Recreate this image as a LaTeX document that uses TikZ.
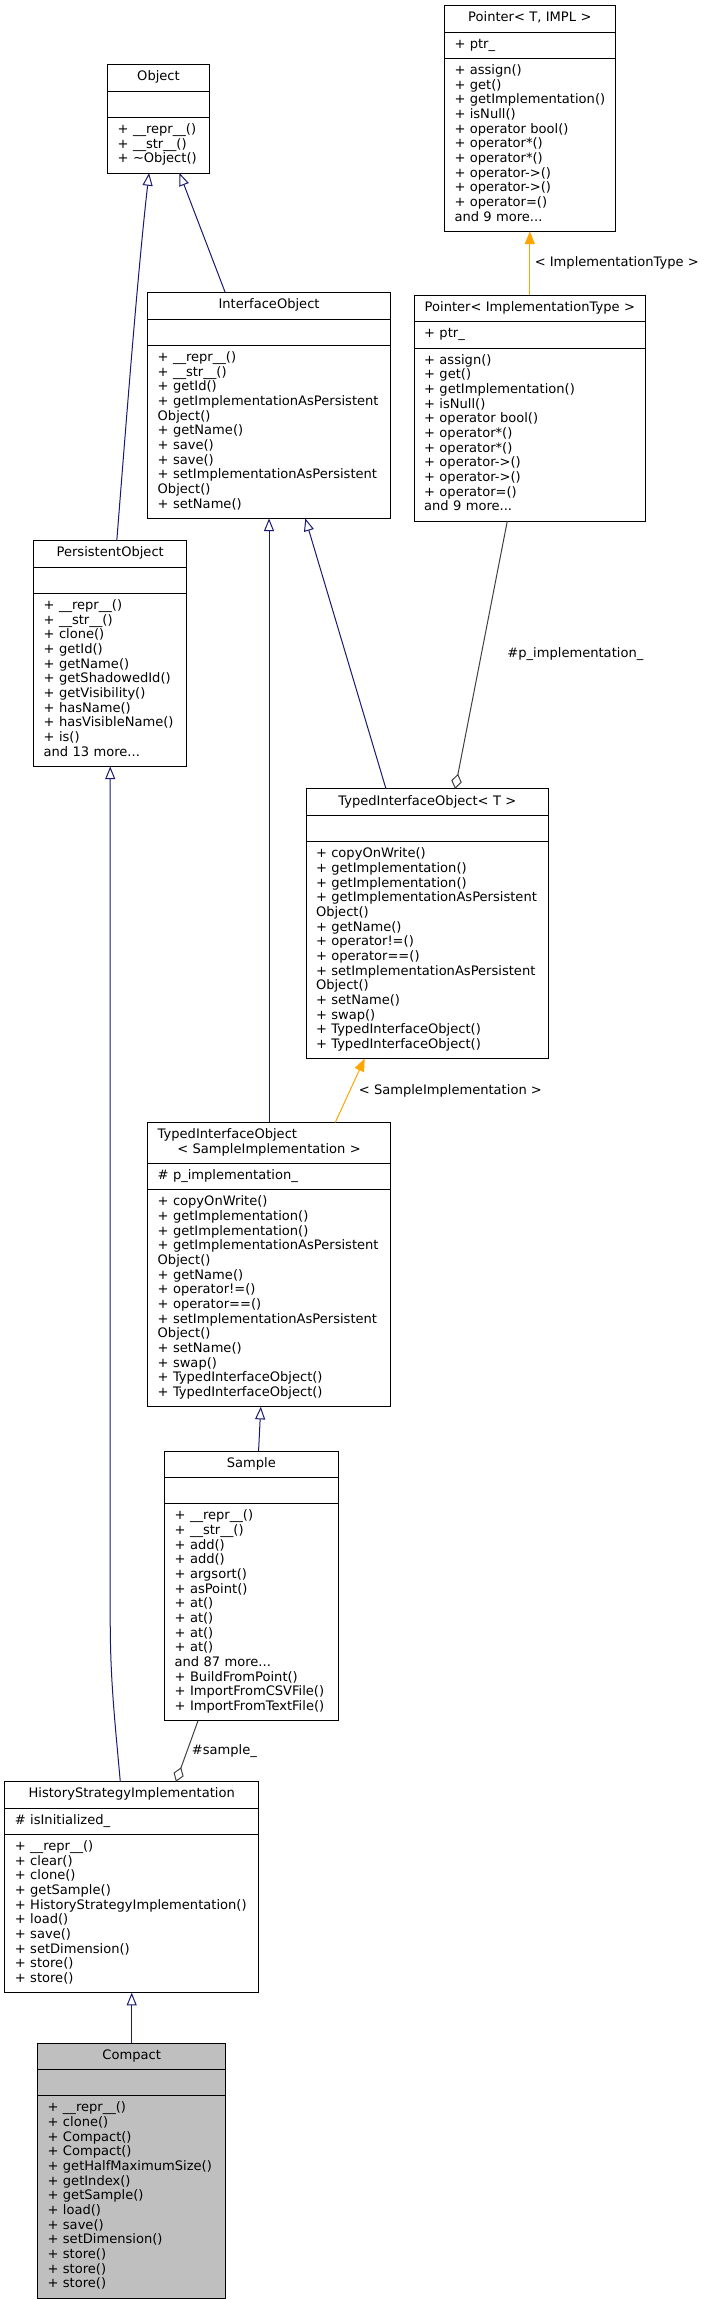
\documentclass[tikz,border=0pt]{standalone}
\usepackage{fontspec}
\setmainfont{DejaVu Sans}
\usetikzlibrary{shapes.multipart,arrows.meta,positioning}
\definecolor{edgeblue}{HTML}{191970}
\definecolor{tmplorange}{HTML}{FFA500}
\definecolor{aggrgray}{HTML}{404040}
\definecolor{focusgray}{HTML}{BFBFBF}
\hyphenpenalty=10000
\exhyphenpenalty=10000
\tikzstyle{umlclass}=[rectangle split,rectangle split parts=3,draw=black,fill=white,
line width=0.75pt,inner xsep=7.5pt,inner ysep=4pt,outer sep=0pt,align=left,
anchor=north west,font=\fontsize{9.8}{11}\selectfont]
\tikzstyle{focusclass}=[umlclass,fill=focusgray]
\tikzstyle{inherit}=[color=edgeblue,line width=0.75pt,{Triangle[open,length=9.5pt,width=7.5pt]}-]
\tikzstyle{bind}=[color=tmplorange,line width=0.75pt,{Triangle[length=9.5pt,width=7.5pt]}-]
\tikzstyle{member}=[color=aggrgray,line width=0.75pt,-{Diamond[open,length=11.5pt,width=8pt]}]
\tikzstyle{elabel}=[text=black,font=\fontsize{9.8}{11}\selectfont]

\begin{document}
\begin{tikzpicture}[x=0.75pt,y=-0.75pt]
            \useasboundingbox (0,0) rectangle (705,2299);

            % POINTER PART

            \node[umlclass,text width=113pt] (ptrT) at (444.5,5.7) {\strut\makebox[\linewidth]{Pointer< T, IMPL >}\strut
              \nodepart{two}\strut +~ptr\_\strut
              \nodepart{three}\strut +~assign()\\+~get()\\+~getImplementation()\\+~isNull()\\+~operator~bool()\\+~operator*()\\+~operator*()\\+~operator->()\\+~operator->()\\+~operator=()\\and~9~more...\strut};
            \node[umlclass,text width=158.5pt,below=48pt of ptrT] (ptrImpl) {\strut\makebox[\linewidth]{Pointer< ImplementationType >}\strut
              \nodepart{two}\strut +~ptr\_\strut
              \nodepart{three}\strut +~assign()\\+~get()\\+~getImplementation()\\+~isNull()\\+~operator~bool()\\+~operator*()\\+~operator*()\\+~operator->()\\+~operator->()\\+~operator=()\\and~9~more...\strut};

            \path[bind] (ptrT.south) edge node[elabel,right] {<~ImplementationType~>} (ptrImpl.north);

            % OBJECT PART

            \node[umlclass,text width=61.2pt] (obj) at (107.7,64.7) {\strut\makebox[\linewidth]{Object}\strut
              \nodepart{two}\strut
              \nodepart{three}\strut +~\_\_repr\_\_()\\+~\_\_str\_\_()\\+~\textasciitilde Object()\strut};
            \node[umlclass,text width=167pt] (iobj) at (147.7,292.7) {\strut\makebox[\linewidth]{InterfaceObject}\strut
              \nodepart{two}\strut
              \nodepart{three}\strut +~\_\_repr\_\_()\\+~\_\_str\_\_()\\+~getId()\\+~getImplementationAsPersistent\\Object()\\+~getName()\\+~save()\\+~save()\\+~setImplementationAsPersistent\\Object()\\+~setName()\strut};
            \node[umlclass,text width=99.8pt] (pobj) at (33.7,540.8) {\strut\makebox[\linewidth]{PersistentObject}\strut
              \nodepart{two}\strut
              \nodepart{three}\strut +~\_\_repr\_\_()\\+~\_\_str\_\_()\\+~clone()\\+~getId()\\+~getName()\\+~getShadowedId()\\+~getVisibility()\\+~hasName()\\+~hasVisibleName()\\+~is()\\and~13~more...\strut};

            \draw[inherit] ([xshift=-7.1pt]obj.south) .. controls +(-9pt,-79pt) and +(6pt,75pt) .. ([xshift=4.9pt]pobj.north);
            \path[inherit] ([xshift=15.75pt]obj.south) edge ([xshift=-32.8pt]iobj.north);

            % TYPED PART

            \node[umlclass,text width=167pt] (tioT) at (306,788.9) {\strut\makebox[\linewidth]{TypedInterfaceObject< T >}\strut
              \nodepart{two}\strut
              \nodepart{three}\strut +~copyOnWrite()\\+~getImplementation()\\+~getImplementation()\\+~getImplementationAsPersistent\\Object()\\+~getName()\\+~operator!=()\\+~operator==()\\+~setImplementationAsPersistent\\Object()\\+~setName()\\+~swap()\\+~TypedInterfaceObject()\\+~TypedInterfaceObject()\strut};
            \node[umlclass,text width=167pt,below=453pt of iobj] (tioS) {\strut TypedInterfaceObject\\\makebox[\linewidth]{< SampleImplementation >}\strut
              \nodepart{two}\strut \#~p\_implementation\_\strut
              \nodepart{three}\strut +~copyOnWrite()\\+~getImplementation()\\+~getImplementation()\\+~getImplementationAsPersistent\\Object()\\+~getName()\\+~operator!=()\\+~operator==()\\+~setImplementationAsPersistent\\Object()\\+~setName()\\+~swap()\\+~TypedInterfaceObject()\\+~TypedInterfaceObject()\strut};
            \node[umlclass,text width=115pt] (smp) at (164.7,1451) {\strut\makebox[\linewidth]{Sample}\strut
              \nodepart{two}\strut
              \nodepart{three}\strut +~\_\_repr\_\_()\\+~\_\_str\_\_()\\+~add()\\+~add()\\+~argsort()\\+~asPoint()\\+~at()\\+~at()\\+~at()\\+~at()\\and~87~more...\\+~BuildFromPoint()\\+~ImportFromCSVFile()\\+~ImportFromTextFile()\strut};

            \path[inherit] (iobj.south) edge (tioS.north);
            \path[inherit] ([xshift=27.2pt]iobj.south) edge ([xshift=-31pt]tioT.north);
            \path[member] ([xshift=-16.9pt]ptrImpl.south) edge node[elabel,right,xshift=16pt,yshift=1pt] {\#p\_implementation\_} ([xshift=20.8pt]tioT.north);
            \path[bind] ([xshift=-47pt]tioT.south) edge node[elabel,right,xshift=3pt] {<~SampleImplementation~>} ([xshift=49.7pt]tioS.north);
            \path[inherit] ([xshift=-6.2pt]tioS.south) edge ([xshift=5.4pt]smp.north);

            % HISTORY PART

            \node[umlclass,text width=175.2pt] (hsi) at (4.9,1781.7) {\strut\makebox[\linewidth]{HistoryStrategyImplementation}\strut
              \nodepart{two}\strut \#~isInitialized\_\strut
              \nodepart{three}\strut +~\_\_repr\_\_()\\+~clear()\\+~clone()\\+~getSample()\\+~HistoryStrategyImplementation()\\+~load()\\+~save()\\+~setDimension()\\+~store()\\+~store()\strut};
            \node[focusclass,text width=126.1pt,below=37.8pt of hsi] (cmp) {\strut\makebox[\linewidth]{Compact}\strut
              \nodepart{two}\strut
              \nodepart{three}\strut +~\_\_repr\_\_()\\+~clone()\\+~Compact()\\+~Compact()\\+~getHalfMaximumSize()\\+~getIndex()\\+~getSample()\\+~load()\\+~save()\\+~setDimension()\\+~store()\\+~store()\\+~store()\strut};

            \draw[inherit] (pobj.south) -- ([yshift=-640.5pt]pobj.south) .. controls +(0,-45pt) and +(-4pt,45pt) .. ([xshift=-8.55pt]hsi.north);
            \path[member] ([xshift=-40pt]smp.south) edge node[elabel,right] {\#sample\_} ([xshift=33.2pt]hsi.north);
            \path[inherit] (hsi.south) edge (cmp.north);

\end{tikzpicture}
\end{document}
